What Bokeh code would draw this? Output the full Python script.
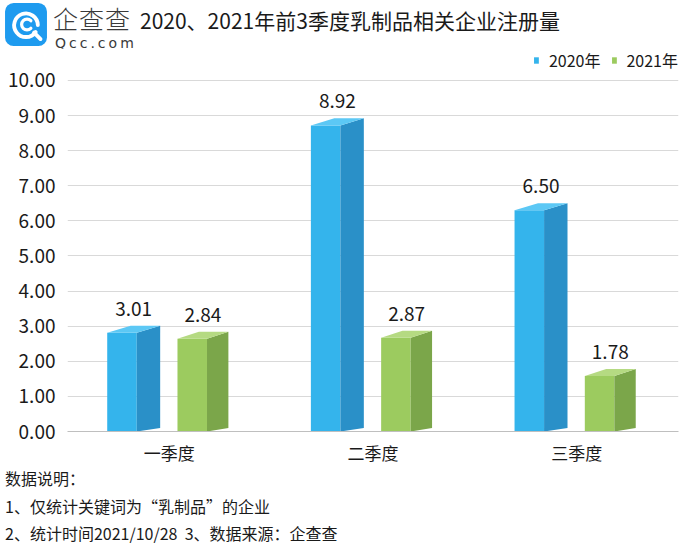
from bokeh.plotting import figure
from bokeh.layouts import column
from bokeh.models import (Range1d, FixedTicker, Legend, LegendItem,
                          PrintfTickFormatter, Div)
from bokeh.core.properties import value
from bokeh.embed import file_html
from bokeh.resources import INLINE

# ---------------- data ----------------
categories = ["一季度", "二季度", "三季度"]
series_names = ["2020年", "2021年"]
values_2020 = [3.01, 8.92, 6.50]
values_2021 = [2.84, 2.87, 1.78]
y_ticks = [0, 1, 2, 3, 4, 5, 6, 7, 8, 9, 10]

title_text = "2020、2021年前3季度乳制品相关企业注册量"
brand_text = "企查查"
brand_url = "Qcc.com"
notes = ["数据说明：", "1、仅统计关键词为“乳制品”的企业", "2、统计时间2021/10/28  3、数据来源：企查查"]

# ---------------- style ----------------
FONT = "Noto Sans CJK SC"
W = 684
HEAD_H, FOOT_H = 48, 78
FRAME_W, FRAME_H = 611, 383
Y_END = 10.91
TXT = "#1a1a1a"

BLUE = ("#34B4EC", "#2A90C8", "#5CC8F5")   # front, side, top
GREEN = ("#9CCB5F", "#7BA64A", "#B5DA82")
OFFSETS = [(-0.305, -0.16, -0.045), (0.04, 0.185, 0.29)]
DEPTH = 0.2
SIDE_BASE = 0.1

# ---------------- header ----------------
icon_svg = (
    '<svg width="42" height="43" viewBox="0 0 39 40" xmlns="http://www.w3.org/2000/svg">'
    '<rect x="0" y="0" width="39" height="40" rx="8" ry="8" fill="#1E9BEF"/>'
    '<path d="M 28.5 27 A 11 11 0 1 1 30.5 20.5" fill="none" stroke="white" stroke-width="3.6" stroke-linecap="round"/>'
    '<path d="M 24 16.5 A 5 5 0 1 0 24 23.5" fill="none" stroke="white" stroke-width="3" stroke-linecap="round"/>'
    '<line x1="27" y1="27.5" x2="33" y2="33.5" stroke="white" stroke-width="3.6" stroke-linecap="round"/>'
    '</svg>'
)
head_html = (
    f'<div style="position:relative;width:{W}px;height:{HEAD_H}px;font-family:\'{FONT}\';">'
    f'<div style="position:absolute;left:5px;top:3px;line-height:0;">{icon_svg}</div>'
    f'<span style="position:absolute;left:53px;top:6px;font-size:25px;line-height:25px;'
    f'font-weight:300;color:#3a3a3a;white-space:nowrap;letter-spacing:1px;">{brand_text}</span>'
    f'<span style="position:absolute;left:55px;top:36px;font-family:\'DejaVu Sans\';font-size:14px;'
    f'line-height:14px;letter-spacing:3px;color:#3a3a3a;white-space:nowrap;">{brand_url}</span>'
    f'<span style="position:absolute;left:140px;top:10px;font-size:21px;line-height:21px;'
    f'color:{TXT};white-space:nowrap;">{title_text}</span>'
    '</div>'
)
head = Div(text=head_html, width=W, height=HEAD_H, margin=0,
           styles={"overflow": "visible"})

# ---------------- main chart ----------------
p = figure(frame_width=FRAME_W, frame_height=FRAME_H, output_backend="svg",
           toolbar_location=None,
           x_range=Range1d(0, len(categories)), y_range=Range1d(0, Y_END),
           min_border_left=67, min_border_right=W - 67 - FRAME_W,
           min_border_top=0, min_border_bottom=37)
p.outline_line_color = None
p.xgrid.visible = False
p.ygrid.grid_line_color = "#D9D9D9"
p.ygrid.grid_line_width = 1

centers = [j + 0.5 for j in range(len(categories))]
p.xaxis.ticker = FixedTicker(ticks=centers)
p.xaxis.major_label_overrides = {c: name for c, name in zip(centers, categories)}
p.xaxis.axis_line_color = "#BFBFBF"
p.xaxis.major_tick_line_color = None
p.xaxis.major_tick_out = 0
p.xaxis.major_tick_in = 0
p.xaxis.minor_tick_line_color = None
p.xaxis.minor_tick_out = 0
p.xaxis.major_label_standoff = 8
p.xaxis.major_label_text_font = FONT
p.xaxis.major_label_text_font_size = "17px"
p.xaxis.major_label_text_color = TXT

p.yaxis.ticker = FixedTicker(ticks=y_ticks)
p.yaxis.formatter = PrintfTickFormatter(format="%.2f")
p.yaxis.axis_line_color = None
p.yaxis.major_tick_line_color = None
p.yaxis.major_tick_out = 0
p.yaxis.major_tick_in = 0
p.yaxis.minor_tick_line_color = None
p.yaxis.minor_tick_out = 0
p.yaxis.major_label_standoff = 12
p.yaxis.major_label_text_font = FONT
p.yaxis.major_label_text_font_size = "19px"
p.yaxis.major_label_text_color = TXT

legend_items = []
for s, (vals, cols) in enumerate([(values_2020, BLUE), (values_2021, GREEN)]):
    o = OFFSETS[s]
    fx, fy, sx, sy, tx, ty, lx, ly, lt = [], [], [], [], [], [], [], [], []
    for c, v in zip(centers, vals):
        xl, xm, xr = c + o[0], c + o[1], c + o[2]
        fx.append([xl, xl, xm, xm]); fy.append([0, v - DEPTH, v - DEPTH, 0])
        sx.append([xm, xm, xr, xr]); sy.append([0, v - DEPTH, v, SIDE_BASE])
        tx.append([xl, xm, xr, xl + (xr - xm)]); ty.append([v - DEPTH, v - DEPTH, v, v])
        lx.append((xl + xr) / 2); ly.append(v); lt.append(f"{v:.2f}")
    front = p.patches(fx, fy, fill_color=cols[0], line_color=None)
    p.patches(sx, sy, fill_color=cols[1], line_color=None)
    p.patches(tx, ty, fill_color=cols[2], line_color=None)
    p.text(lx, ly, text=lt, text_align="center", text_baseline="middle",
           y_offset=-17, text_font=value(FONT), text_font_size="19px",
           text_color=TXT)
    legend_items.append(LegendItem(label=series_names[s], renderers=[front]))

legend = Legend(items=legend_items, orientation="horizontal", location="top_right",
                glyph_width=6, glyph_height=8, label_standoff=10, spacing=10,
                label_height=16, padding=1, margin=0, border_line_color=None,
                background_fill_alpha=0, label_text_font=FONT,
                label_text_font_size="16px", label_text_color=TXT)
p.add_layout(legend)

# ---------------- footer ----------------
note_tops = [2, 30, 57]
foot_html = (
    f'<div style="position:relative;width:{W}px;height:{FOOT_H}px;font-family:\'{FONT}\';">'
    + "".join(
        f'<span style="position:absolute;left:5px;top:{t}px;font-size:16px;line-height:16px;'
        f'color:{TXT};white-space:pre;">{n}</span>'
        for t, n in zip(note_tops, notes))
    + '</div>'
)
foot = Div(text=foot_html, width=W, height=FOOT_H, margin=0,
           styles={"overflow": "visible"})

layout = column(head, p, foot, spacing=0)
open("out.html", "w").write(file_html(layout, INLINE))
